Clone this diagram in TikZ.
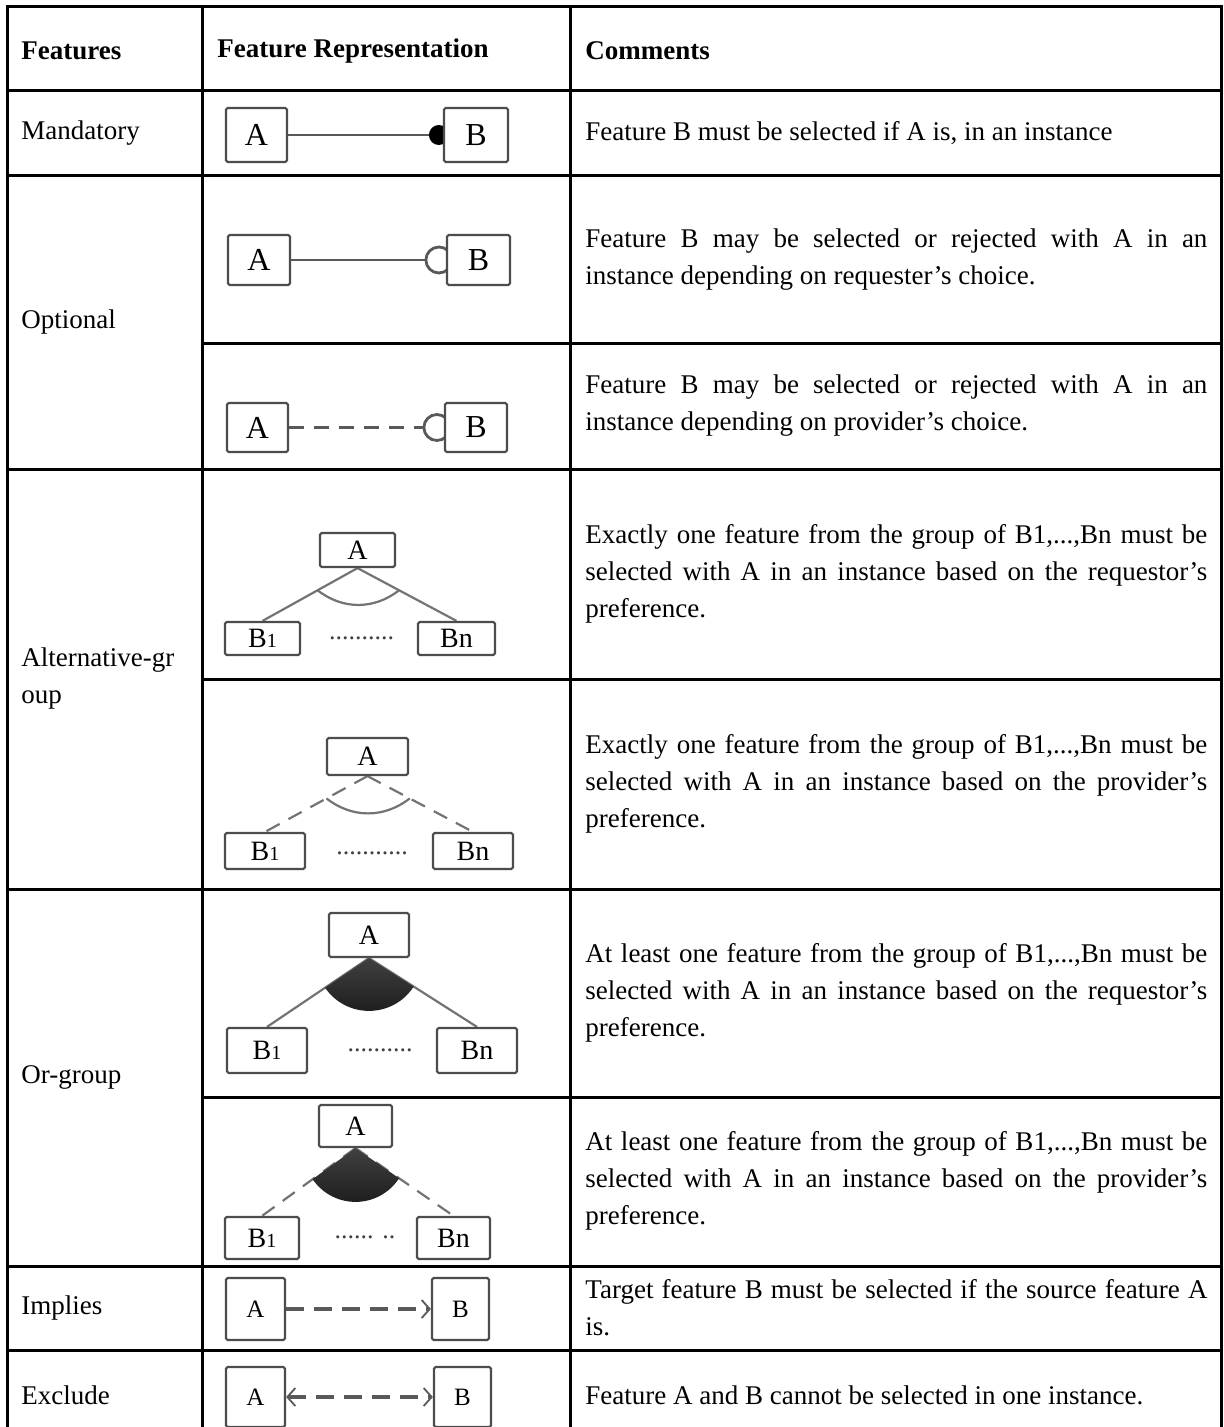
\documentclass[tikz,border=0pt]{standalone}
\usepackage{fontspec}
\setmainfont{Liberation Serif}
\usetikzlibrary{arrows.meta,calc,backgrounds}

\newcommand{\Bone}{B{\fontsize{10}{10}\selectfont 1}}

\tikzset{
  grid/.style={line width=1.5pt, line cap=rect},
  cell/.style={anchor=west, inner sep=0pt, font=\fontsize{13.5}{18.5}\selectfont},
  head/.style={cell, font=\fontsize{13.5}{18.5}\selectfont\bfseries},
  note/.style={cell, text width=311pt, align=justify},
  featbox/.style={draw=black!70, line width=1.1pt, fill=white, rounded corners=0.8pt,
    inner sep=0pt, font=\fontsize{14}{14}\selectfont},
  bigbox/.style={featbox, font=\fontsize{16}{16}\selectfont},
  smallbox/.style={featbox, font=\fontsize{12.5}{12.5}\selectfont},
  link/.style={draw=black!65, line width=1.4pt},
  thinlink/.style={draw=black!55, line width=1.1pt},
  dashlink/.style={link, dash pattern=on 7.5pt off 5pt},
  thindash/.style={thinlink, dash pattern=on 7.5pt off 5pt},
  orfan/.style={top color=black!75, middle color=black, bottom color=black!90},
  gap/.style={inner sep=0pt, text=black!75, font=\fontsize{13}{13}\selectfont},
}

\begin{document}
\begin{tikzpicture}[x=0.5pt, y=-0.5pt, >={Straight Barb[length=4pt,width=9pt,line width=0.9pt]}]
  \useasboundingbox (0,0) rectangle (1223,1427);
  \clip (0,0) rectangle (1223,1427);

  % table rules
  \foreach \y in {7,91,176,469,889,1266,1350,1440}
    \draw[grid] (7,\y) -- (1221.5,\y);
  \foreach \y in {344,679,1097}
    \draw[grid] (202,\y) -- (1221.5,\y);
  \foreach \x in {7,202,570,1221.5}
    \draw[grid] (\x,7) -- (\x,1440);

  % header
  \node[head] (hfeat) at (21,51) {Features};
  \node[head] (hrep) at (217,51) {Feature Representation};
  \node[head] (hcom) at (585,51) {Comments};

  % feature names
  \node[cell] (lmand) at (21,133.5) {Mandatory};
  \node[cell] (lopt) at (21,322) {Optional};
  \node[cell, align=left] (lalt) at (21,679) {Alternative-gr\\oup};
  \node[cell] (lor) at (21,1077) {Or-group};
  \node[cell] (limp) at (21,1308) {Implies};
  \node[cell] (lexc) at (21,1395) {Exclude};

  % comments
  \node[note] (cmand) at (585,133.5) {Feature B must be selected if A is, in an instance};
  \node[note] (copt) at (585,260) {Feature B may be selected or rejected with A in an\linebreak
    instance depending on requester’s choice.};
  \node[note] (copttwo) at (585,406) {Feature B may be selected or rejected with A in an\linebreak
    instance depending on provider’s choice.};
  \node[note] (calt) at (585,574) {Exactly one feature from the group of B1,...,Bn must be\linebreak
    selected with A in an instance based on the requestor’s\linebreak preference.};
  \node[note] (calttwo) at (585,784) {Exactly one feature from the group of B1,...,Bn must be\linebreak
    selected with A in an instance based on the provider’s\linebreak preference.};
  \node[note] (cor) at (585,993) {At least one feature from the group of B1,...,Bn must be\linebreak
    selected with A in an instance based on the requestor’s\linebreak preference.};
  \node[note] (cortwo) at (585,1181) {At least one feature from the group of B1,...,Bn must be\linebreak
    selected with A in an instance based on the provider’s\linebreak preference.};
  \node[note] (cimp) at (585,1308) {Target feature B must be selected if the source feature A\linebreak is.};
  \node[note] (cexc) at (585,1395) {Feature A and B cannot be selected in one instance.};

  % mandatory
  \node[bigbox, minimum width=30.5pt, minimum height=27pt] (mandA) at (256.5,135) {A};
  \node[bigbox, minimum width=32pt, minimum height=27pt] (mandB) at (476,135) {B};
  % optional, requester
  \node[bigbox, minimum width=31pt, minimum height=25pt] (optA) at (259,260) {A};
  \node[bigbox, minimum width=31.5pt, minimum height=25pt] (optB) at (478.5,260) {B};
  % optional, provider
  \node[bigbox, minimum width=30.5pt, minimum height=24.5pt] (opttwoA) at (257.5,427.5) {A};
  \node[bigbox, minimum width=31pt, minimum height=24.5pt] (opttwoB) at (476,427.5) {B};

  % alternative-group
  \node[featbox, minimum width=37.5pt, minimum height=17pt] (altA) at (357.5,550) {A};
  \node[featbox, minimum width=37.5pt, minimum height=16.5pt] (altBi) at (262.5,638.5) {\Bone};
  \node[featbox, minimum width=38.5pt, minimum height=16.5pt] (altBn) at (456.5,638.5) {Bn};
  \node[gap] (altdots) at (361.5,638) {..........};
  \node[featbox, minimum width=40.5pt, minimum height=18.5pt] (alttwoA) at (367.5,756.5) {A};
  \node[featbox, minimum width=40pt, minimum height=18pt] (alttwoBi) at (265,851) {\Bone};
  \node[featbox, minimum width=40pt, minimum height=18pt] (alttwoBn) at (473,851) {Bn};
  \node[gap] (alttwodots) at (372,853) {...........};

  % or-group
  \node[featbox, minimum width=40pt, minimum height=22pt] (orA) at (369,935) {A};
  \node[featbox, minimum width=40pt, minimum height=22.5pt] (orBi) at (267,1050.5) {\Bone};
  \node[featbox, minimum width=40pt, minimum height=22.5pt] (orBn) at (477,1050.5) {Bn};
  \node[gap] (ordots) at (380,1050) {..........};
  \node[featbox, minimum width=36.5pt, minimum height=21pt] (ortwoA) at (355.5,1126) {A};
  \node[featbox, minimum width=37pt, minimum height=21pt] (ortwoBi) at (262,1238) {\Bone};
  \node[featbox, minimum width=36.5pt, minimum height=21pt] (ortwoBn) at (453.5,1238) {Bn};
  \node[gap] (ortwodots) at (365,1237) {...... ..};

  % implies, exclude
  \node[smallbox, minimum width=29.5pt, minimum height=31pt] (impA) at (255.5,1309) {A};
  \node[smallbox, minimum width=28.5pt, minimum height=31pt] (impB) at (460.5,1309) {B};
  \node[smallbox, minimum width=29.5pt, minimum height=30pt] (excA) at (255.5,1397) {A};
  \node[smallbox, minimum width=28.5pt, minimum height=30pt] (excB) at (462.5,1397) {B};

  \begin{scope}[on background layer]
    % mandatory and optional links
    \draw[link] (mandA) -- (mandB);
    \fill[black] ($(mandB.west)+(-4,0)$) circle (10);
    \draw[link] (optA) -- (optB);
    \draw[link, fill=white] ($(optB.west)+(-7,0)$) circle (13);
    \draw[dashlink] (opttwoA) -- (opttwoB);
    \draw[link, fill=white] ($(opttwoB.west)+(-7,0)$) circle (13);
    % alternative links
    \draw[thinlink] (altA.south) -- (altBi.north);
    \draw[thinlink] (altA.south) -- (altBn.north);
    \draw[thinlink] ($(altA.south)!0.42!(altBi.north)$) to[bend right=38] ($(altA.south)!0.42!(altBn.north)$);
    \draw[thindash] (alttwoA.south) -- (alttwoBi.north);
    \draw[thindash] (alttwoA.south) -- (alttwoBn.north);
    \draw[thinlink] ($(alttwoA.south)!0.4!(alttwoBi.north)$) to[bend right=38] ($(alttwoA.south)!0.4!(alttwoBn.north)$);
    % or links
    \draw[thinlink] (orA.south) -- (orBi.north);
    \draw[thinlink] (orA.south) -- (orBn.north);
    \shade[orfan]
      (orA.south) -- ($(orA.south)!26.5pt!(orBi.north)$) to[bend right=56, looseness=1.1]
      ($(orA.south)!26.5pt!(orBn.north)$) -- cycle;
    \draw[thindash] (ortwoA.south) -- (ortwoBi.north);
    \draw[thindash] (ortwoA.south) -- (ortwoBn.north);
    \shade[orfan]
      (ortwoA.south) -- ($(ortwoA.south)!26.5pt!(ortwoBi.north)$) to[bend right=56, looseness=1.1]
      ($(ortwoA.south)!26.5pt!(ortwoBn.north)$) -- cycle;
    % implies, exclude
    \draw[link, line width=1.6pt, dash pattern=on 9pt off 5pt, ->] (impA) -- (impB);
    \draw[link, line width=1.6pt, dash pattern=on 9pt off 5pt, <->] (excA) -- (excB);
  \end{scope}
\end{tikzpicture}
\end{document}
